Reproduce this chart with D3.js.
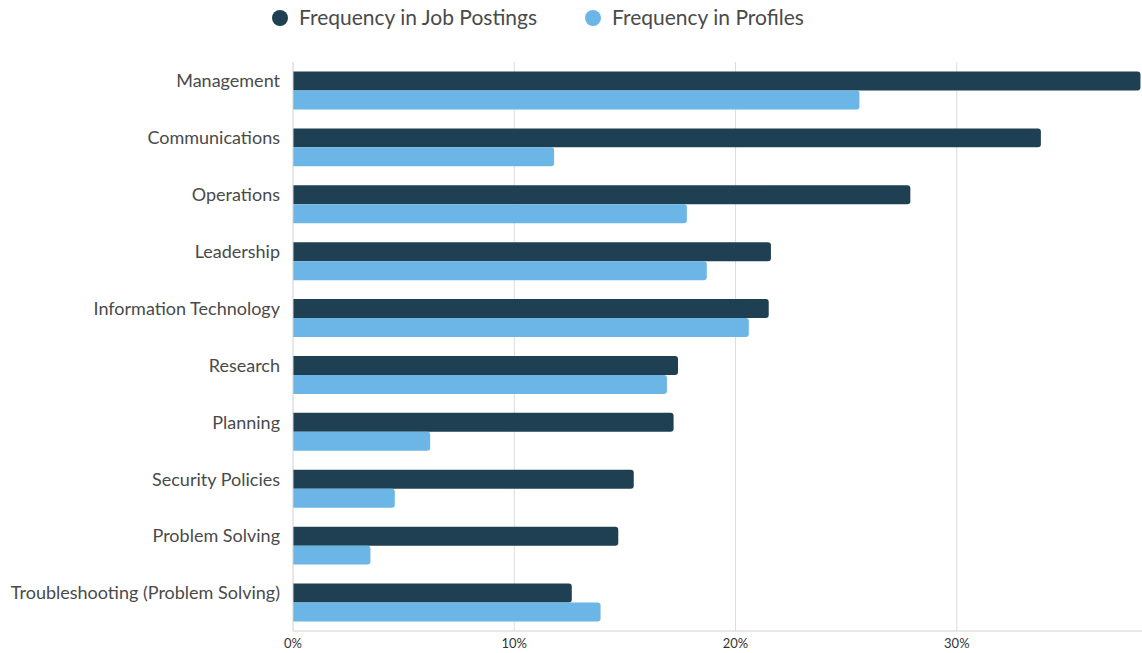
<!DOCTYPE html>
<html>
<head>
<meta charset="utf-8">
<script src="https://cdn.jsdelivr.net/npm/d3@7/dist/d3.min.js"></script>
<style>
  body { margin: 0; background: #fff; }
  text { font-family: Lato, "Open Sans", sans-serif; }
</style>
</head>
<body>
<svg id="chart" width="1142" height="653"></svg>
<script>
var skills = ['Management', 'Communications', 'Operations', 'Leadership', 'Information Technology',
    'Research', 'Planning', 'Security Policies', 'Problem Solving', 'Troubleshooting (Problem Solving)'];
var jobPostings = [38.3, 33.8, 27.9, 21.6, 21.5, 17.4, 17.2, 15.4, 14.7, 12.6];
var profiles = [25.6, 11.8, 17.8, 18.7, 20.6, 16.9, 6.2, 4.6, 3.5, 13.9];
var seriesNames = ['Frequency in Job Postings', 'Frequency in Profiles'];
var seriesColors = ['#1e4052', '#6bb6e6'];
var xTicks = [0, 10, 20, 30];

var svg = d3.select('#chart');
var plotLeft = 293, plotRight = 1142, plotTop = 62, plotBottom = 631;

var x = d3.scaleLinear().domain([0, 38.37]).range([plotLeft, plotRight]);
var y = d3.scaleBand().domain(skills).range([plotTop, plotBottom]).paddingInner(0.333).paddingOuter(0.167);
var sub = d3.scaleBand().domain([0, 1]).range([0, y.bandwidth()]);

// grid lines
svg.selectAll('.grid')
    .data(xTicks.slice(1))
    .enter()
    .append('line')
    .attr('x1', function(d){ return x(d); })
    .attr('x2', function(d){ return x(d); })
    .attr('y1', plotTop)
    .attr('y2', plotBottom)
    .style('stroke', '#dcdcdc')
    .style('stroke-width', 1);

// rounded right end bar
function barPath(x0, x1, y0, h, r) {
    r = Math.min(r, (x1 - x0));
    return 'M' + x0 + ',' + y0 +
        'H' + (x1 - r) +
        'Q' + x1 + ',' + y0 + ' ' + x1 + ',' + (y0 + r) +
        'V' + (y0 + h - r) +
        'Q' + x1 + ',' + (y0 + h) + ' ' + (x1 - r) + ',' + (y0 + h) +
        'H' + x0 + 'Z';
}

[jobPostings, profiles].forEach(function(series, s){
    svg.selectAll('.bar' + s)
        .data(series)
        .enter()
        .append('path')
        .attr('d', function(d, i){
            return barPath(x(0), x(d), y(skills[i]) + sub(s), sub.bandwidth(), 3);
        })
        .style('fill', seriesColors[s]);
});

// axis lines
svg.append('line')
    .attr('x1', x(0)).attr('x2', x(0))
    .attr('y1', plotTop).attr('y2', plotBottom)
    .style('stroke', '#d0d0d0');
svg.append('line')
    .attr('x1', x(0)).attr('x2', plotRight)
    .attr('y1', plotBottom).attr('y2', plotBottom)
    .style('stroke', '#d0d0d0');

// x tick labels
svg.selectAll('.xlab')
    .data(xTicks)
    .enter()
    .append('text')
    .attr('x', function(d){ return x(d); })
    .attr('y', 648)
    .attr('text-anchor', 'middle')
    .style('font-size', '13px')
    .style('fill', '#333')
    .text(function(d){ return d + '%'; });

// category labels, level with the first bar of each group
svg.selectAll('.ylab')
    .data(skills)
    .enter()
    .append('text')
    .attr('x', 280)
    .attr('y', function(d){ return y(d) + sub.bandwidth() / 2; })
    .attr('dy', '0.35em')
    .attr('text-anchor', 'end')
    .style('font-size', '18px')
    .style('fill', '#4a4a4a')
    .text(function(d){ return d; });

// legend
var legendX = [280, 593];
seriesNames.forEach(function(name, s){
    var g = svg.append('g').attr('transform', 'translate(' + legendX[s] + ',18)');
    g.append('circle').attr('cx', 0).attr('cy', 0).attr('r', 8).style('fill', seriesColors[s]);
    g.append('text').attr('x', 19).attr('y', 7)
        .style('font-size', '21px').style('fill', '#4a4a4a').text(name);
});
</script>
</body>
</html>
